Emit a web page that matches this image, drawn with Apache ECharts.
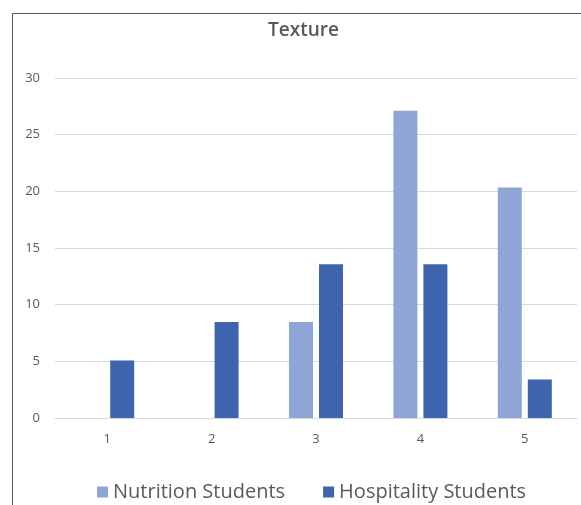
<!DOCTYPE html>
<html>
<head>
<meta charset="utf-8">
<script src="https://cdn.jsdelivr.net/npm/echarts@6/dist/echarts.min.js"></script>
<style>
  html, body { margin: 0; padding: 0; background: #fff; }
  #chart { width: 581px; height: 505px; }
</style>
</head>
<body>
<div id="chart"></div>
<script>
// Texture ratings (percent of respondents) per score 1–5
const categories = ['1', '2', '3', '4', '5'];
const nutritionStudents = [0, 0, 8.47, 27.12, 20.34];
const hospitalityStudents = [5.08, 8.47, 13.56, 13.56, 3.39];
const yTicks = { min: 0, max: 30, interval: 5 };

const textColor = '#595959';
const fontFamily = '"Open Sans", "Noto Sans", sans-serif';

const chart = echarts.init(document.getElementById('chart'), null, { renderer: 'canvas' });

chart.setOption({
  animation: false,
  backgroundColor: '#fff',
  textStyle: { fontFamily: fontFamily },
  title: {
    text: 'Texture',
    left: 263,
    top: 16,
    textStyle: { fontFamily: fontFamily, fontSize: 19, fontWeight: 600, color: textColor }
  },
  graphic: [{
    type: 'rect',
    silent: true,
    shape: { x: 12.5, y: 13.5, width: 700, height: 600 },
    style: { fill: 'none', stroke: '#555', lineWidth: 1 }
  }],
  legend: {
    left: 92,
    top: 477,
    itemWidth: 11,
    itemHeight: 11,
    itemGap: 38,
    icon: 'rect',
    textStyle: { fontFamily: fontFamily, fontSize: 20, color: textColor },
    data: ['Nutrition Students', 'Hospitality Students']
  },
  grid: { left: 55, right: 4, top: 78, bottom: 87, containLabel: false },
  xAxis: {
    type: 'category',
    data: categories,
    axisLine: { show: true, lineStyle: { color: '#d9d9d9', width: 1 } },
    axisTick: { show: false },
    axisLabel: { color: textColor, fontSize: 13, margin: 15, fontFamily: fontFamily },
    splitLine: { show: false }
  },
  yAxis: {
    type: 'value',
    min: yTicks.min,
    max: yTicks.max,
    interval: yTicks.interval,
    axisLine: { show: false },
    axisTick: { show: false },
    axisLabel: { color: textColor, fontSize: 13, margin: 15, fontFamily: fontFamily },
    splitLine: { show: true, lineStyle: { color: '#d9d9d9', width: 1 } }
  },
  series: [
    {
      name: 'Nutrition Students',
      type: 'bar',
      data: nutritionStudents,
      barWidth: 24,
      barGap: '25%',
      itemStyle: { color: '#8fa5d5' }
    },
    {
      name: 'Hospitality Students',
      type: 'bar',
      data: hospitalityStudents,
      barWidth: 24,
      barGap: '25%',
      itemStyle: { color: '#3d64ad' }
    }
  ]
});
</script>
</body>
</html>
